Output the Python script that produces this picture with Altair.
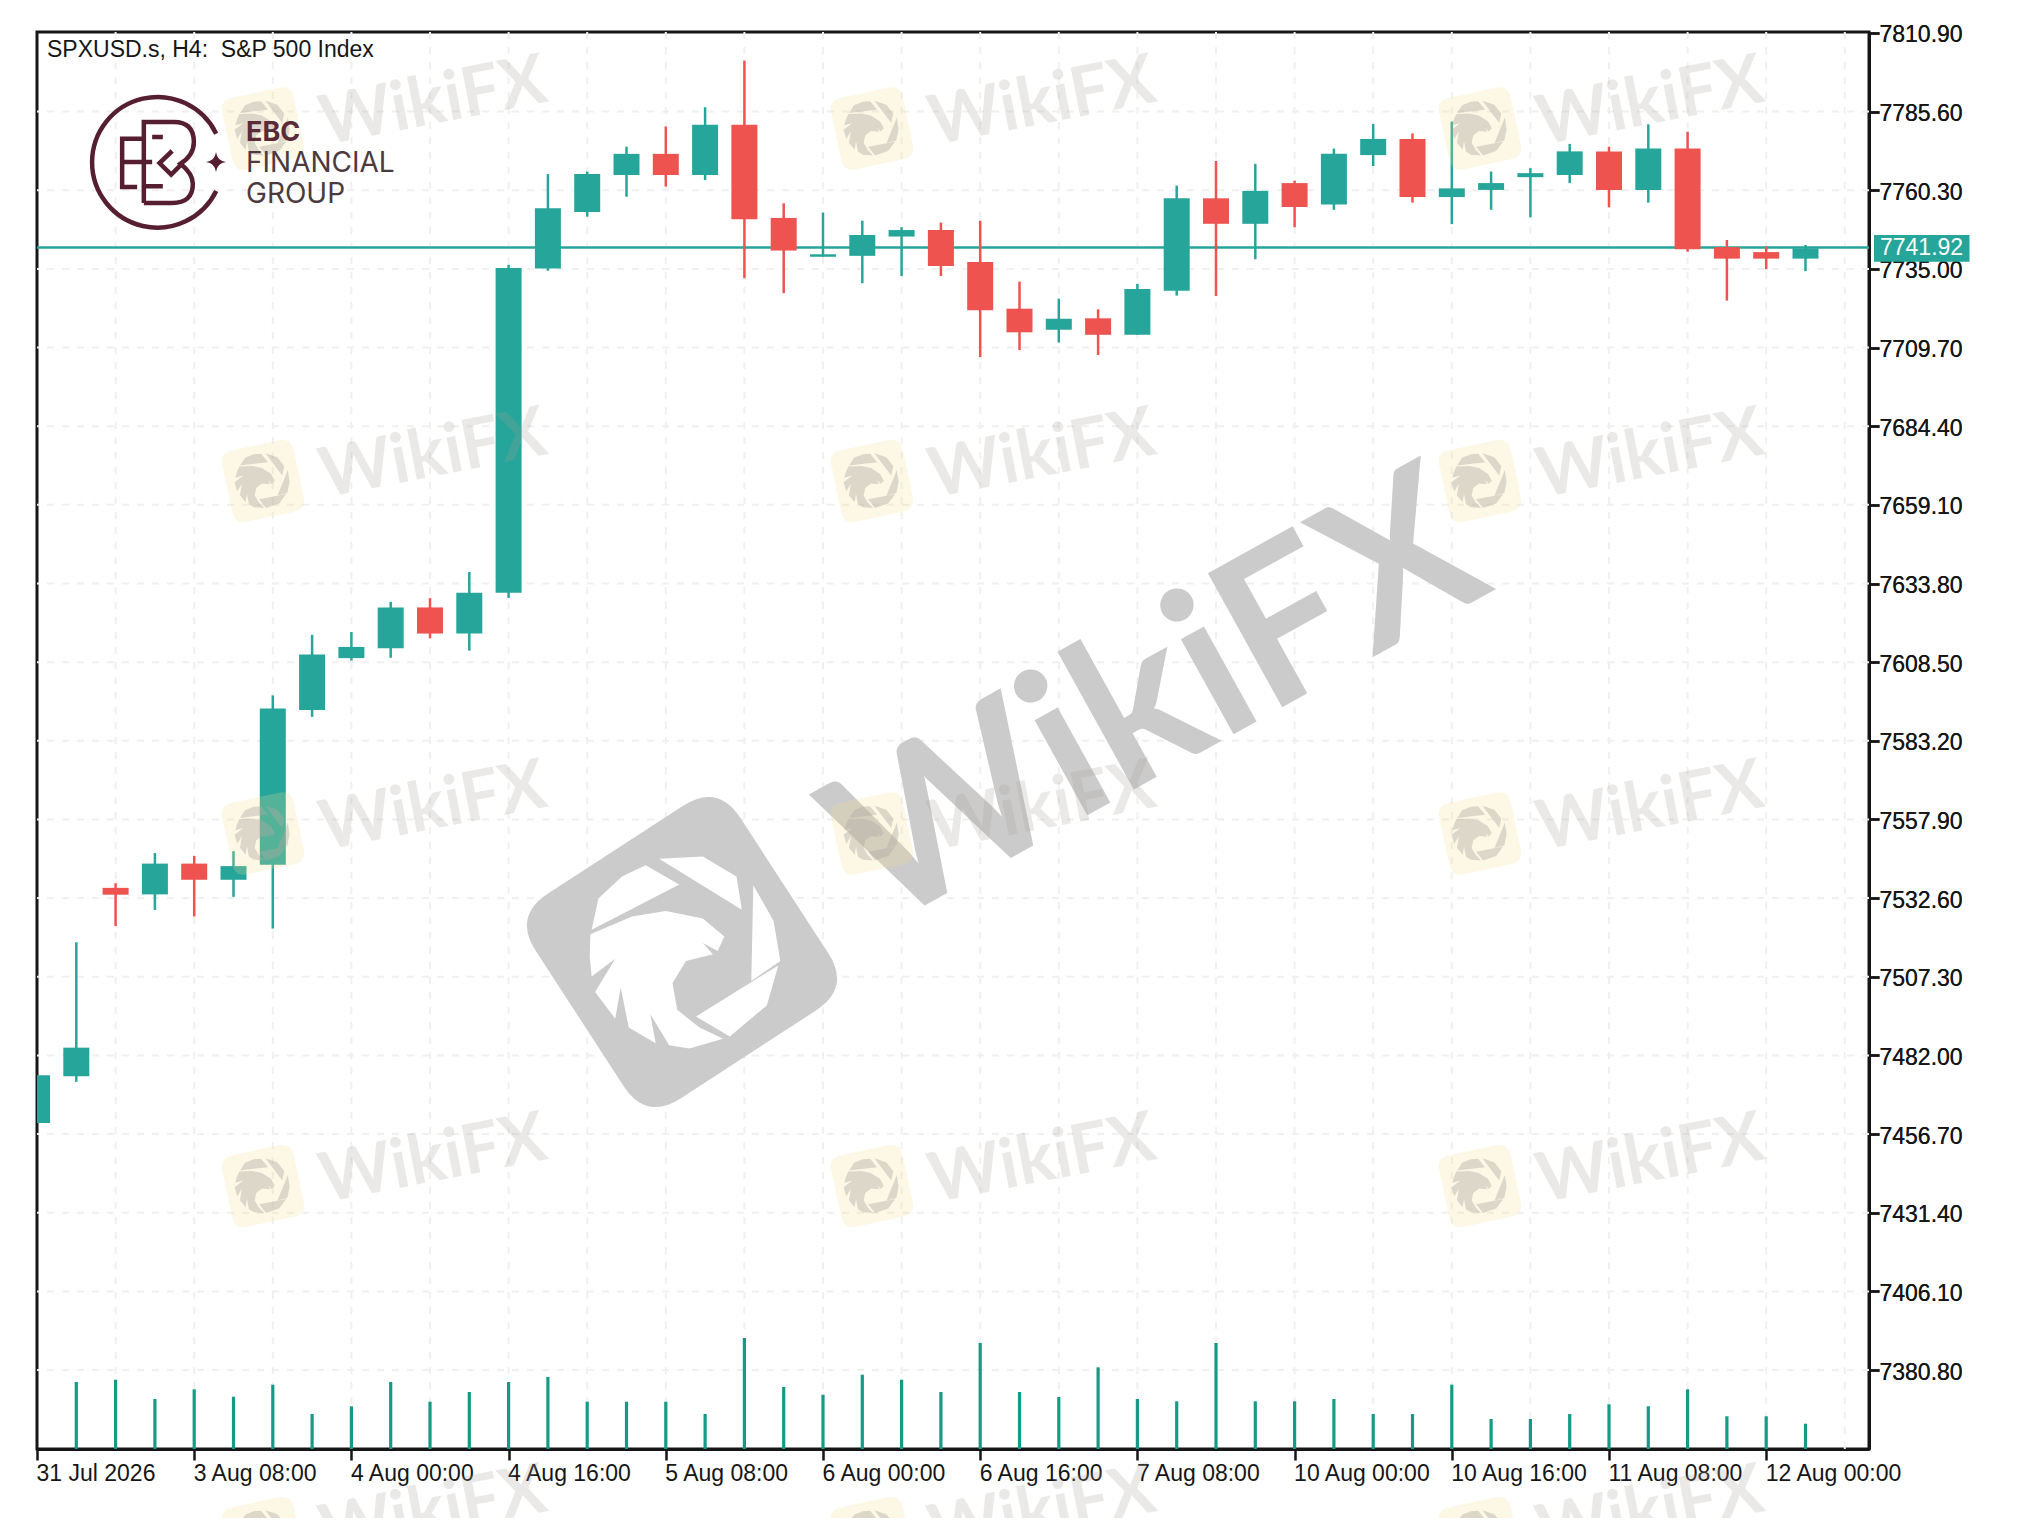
import altair as alt
import pandas as pd

# ---- chart values ----
tops = [7475.6,7484.5,7535.9,7543.7,7543.7,7542.9,7593.6,7611.0,7613.4,7626.1,7626.1,7630.8,7735.3,7754.5,7765.5,7772.0,
        7772.0,7781.4,7781.4,7751.4,7739.7,7745.9,7747.5,7747.5,7737.2,7722.2,7719.0,7719.1,7728.5,7757.7,7757.7,7760.1,
        7762.6,7772.0,7776.8,7776.8,7760.9,7762.6,7765.8,7772.8,7772.8,7773.7,7773.7,7742.0,7740.4,7741.6]
bottoms = [7460.3,7475.3,7533.7,7533.8,7538.5,7538.5,7543.3,7593.1,7609.8,7613.0,7617.7,7617.7,7630.8,7735.1,7753.3,7765.2,
           7765.2,7765.2,7751.0,7740.9,7738.9,7739.2,7745.4,7735.9,7721.7,7714.6,7715.4,7713.8,7713.8,7728.0,7749.5,7749.5,
           7754.9,7755.7,7771.6,7758.1,7758.1,7760.4,7764.5,7765.2,7760.4,7760.4,7741.3,7738.3,7738.3,7738.3]
highs = [7475.6,7518.4,7537.4,7547.1,7546.2,7547.7,7597.8,7617.3,7618.2,7627.9,7629.1,7637.5,7736.3,7765.5,7766.3,7774.3,
         7780.8,7787.0,7802.0,7756.1,7753.1,7750.5,7748.4,7749.9,7750.5,7730.9,7725.4,7722.0,7730.2,7761.8,7769.7,7768.8,
         7763.4,7773.7,7781.6,7778.6,7782.4,7766.3,7767.4,7775.2,7774.3,7781.5,7779.1,7744.3,7742.2,7742.7]
lows = [7460.3,7473.5,7523.6,7528.8,7526.7,7533.0,7522.8,7590.9,7609.0,7609.9,7616.2,7612.2,7629.1,7734.4,7751.8,7758.2,
        7761.5,7763.6,7732.0,7727.2,7738.9,7730.4,7732.7,7732.7,7706.6,7708.9,7711.3,7707.3,7713.8,7726.4,7726.3,7738.1,
        7748.4,7754.0,7768.1,7756.3,7749.4,7754.0,7751.6,7762.6,7754.8,7756.3,7740.5,7724.8,7734.9,7734.3]
directions = ["up","up","down","up","down","up","up","up","up","up","down","up","up","up","up","up",
              "down","up","down","down","up","up","up","down","down","down","up","down","up","up","down","up",
              "down","up","up","down","up","up","up","up","down","up","down","down","down","up"]
volumes = [670,693,500,597,523,643,350,427,670,473,570,670,720,473,473,473,350,1110,620,543,743,693,570,1060,
           570,520,817,500,477,1060,477,477,500,350,350,643,300,300,350,447,427,597,327,327,253]
price_ticks = [7810.90,7785.60,7760.30,7735.00,7709.70,7684.40,7659.10,7633.80,7608.50,7583.20,7557.90,
               7532.60,7507.30,7482.00,7456.70,7431.40,7406.10,7380.80]
time_labels = ["31 Jul 2026","3 Aug 08:00","4 Aug 00:00","4 Aug 16:00","5 Aug 08:00","6 Aug 00:00",
               "6 Aug 16:00","7 Aug 08:00","10 Aug 00:00","10 Aug 16:00","11 Aug 08:00","12 Aug 00:00"]
last_price = [7741.92]

# ---- styles / layout ----
UP, DOWN, INK = "#26a69a", "#ef5350", "#161616"
VOL = "#149a85"
GRID = "#f0f0f0"
FONT = "Liberation Sans"
W, H = 1832, 1417
OX, OY = 37, 32    # plot origin within the page picture

n = len(tops)
idx = list(range(n))
candles = pd.DataFrame({"i": idx, "top": tops, "bottom": bottoms, "high": highs, "low": lows, "dir": directions})
vol_df = pd.DataFrame({"i": idx[1:], "v": volumes})
tick_df = pd.DataFrame({"p": price_ticks[1:]})
vgrid_df = pd.DataFrame({"i": list(range(2, 48, 2))})
last_df = pd.DataFrame({"p": last_price})
one = pd.DataFrame({"a": [0]})

x_scale = alt.Scale(domain=[0, W / 39.3], nice=False, zero=False, padding=0)
y_scale = alt.Scale(domain=[7355.4, 7811.2], nice=False, zero=False)
colour = alt.Color("dir:N", scale=alt.Scale(domain=["up", "down"], range=[UP, DOWN]), legend=None)

label_expr = "[" + ",".join(f"'{t}'" for t in time_labels) + "][datum.value/4]"
x_axis = alt.Axis(values=list(range(0, 48, 4)), labelExpr=label_expr, labelAlign="left", labelFlush=False,
                  labelOverlap=False, labelBound=False, grid=False, title=None, tickSize=11, tickWidth=2.5,
                  tickColor=INK, domainColor=INK, domainWidth=3, labelFont=FONT, labelFontSize=23,
                  labelColor=INK, labelPadding=2, labelOffset=-1)
y_axis = alt.Axis(values=price_ticks, format=".2f", orient="right", grid=False, title=None, tickSize=10,
                  tickWidth=2.5, tickColor=INK, domainColor=INK, domainWidth=3, labelFont=FONT, labelFontSize=23,
                  labelColor=INK, labelPadding=0, labelOffset=2, labelFlush=False, labelOverlap=False, labelBound=False)
x_enc = alt.X("i:Q", scale=x_scale, axis=x_axis)
y_enc = lambda f: alt.Y(f, scale=y_scale, axis=y_axis)

DASH = [7, 8]
hgrid = alt.Chart(tick_df).mark_rule(color=GRID, strokeWidth=2, strokeDash=DASH).encode(y=y_enc("p:Q"))
vgrid = alt.Chart(vgrid_df).mark_rule(color=GRID, strokeWidth=2, strokeDash=DASH, clip=True).encode(x=x_enc)
price_line = alt.Chart(last_df).mark_rule(color=UP, strokeWidth=2.5).encode(y=y_enc("p:Q"))
wicks = alt.Chart(candles).mark_rule(strokeWidth=2.5, clip=True).encode(
    x=x_enc, y=y_enc("low:Q"), y2="high:Q", color=colour)
bodies = alt.Chart(candles).mark_bar(size=26, orient="vertical", clip=True).encode(
    x=x_enc, y=y_enc("bottom:Q"), y2="top:Q", color=colour)
grid_group = alt.layer(hgrid, vgrid)
price_group = alt.layer(price_line, wicks, bodies)

vol_layer = alt.Chart(vol_df).mark_bar(size=3.2, orient="vertical", color=VOL).encode(
    x=x_enc, y=alt.Y("v:Q", scale=alt.Scale(domain=[0, 14170], nice=False, zero=True), axis=None))

# ---- decorations: watermark and logo, placed in page pixels ----
def px(x): return x - OX
def py(y): return y - OY

def text(s, x, y, **kw):
    return alt.Chart(one).mark_text(text=s, **kw).encode(x=alt.value(px(x)), y=alt.value(py(y)))

def shape(path, x, y, size, **kw):
    return alt.Chart(one).mark_point(shape=path, size=size, **kw).encode(x=alt.value(px(x)), y=alt.value(py(y)))

ROUND_SQUARE = ("M -0.66 -1 L 0.66 -1 Q 1 -1 1 -0.66 L 1 0.66 Q 1 1 0.66 1 L -0.66 1 "
                "Q -1 1 -1 0.66 L -1 -0.66 Q -1 -1 -0.66 -1 Z")

EAGLE_PIECES = [
    [(135,1120),(145,1050),(180,1000),(215,975),(265,1018)],
    [(235,960),(300,955),(350,1000),(358,1075)],
    [(375,1020),(405,1100),(415,1190),(372,1235)],
    [(412,1200),(395,1290),(340,1360),(290,1315)],
    [(133,1130),(195,1090),(245,1078),(300,1095),(332,1135),(322,1168),(300,1150),(315,1175),(275,1190),
     (255,1240),(262,1300),(295,1340),(330,1365),(280,1387),(250,1380),(222,1310),(230,1375),(190,1340),
     (178,1250),(170,1320),(140,1260),(170,1185),(135,1225),(132,1180)],
]
def eagle_path(scale):
    out = []
    for piece in EAGLE_PIECES:
        pts = [((a - 275) / 1.479 / scale, (b - 1170) / 2.24 / scale) for a, b in piece]
        out.append("M " + " L ".join(f"{u:.3f} {v:.3f}" for u, v in pts) + " Z")
    return " ".join(out)
EAGLE = eagle_path(128)

# large central mark, above the grid and beneath the candles
big_mark = alt.layer(
    shape(ROUND_SQUARE, 682, 952, 244 ** 2, filled=True, fill="#cbcbcb", strokeWidth=0, opacity=1, angle=327),
    shape(EAGLE, 686, 952, 255 ** 2, filled=True, fill="#ffffff", strokeWidth=0, opacity=1),
    text("WikiFX", 1158, 703, font="Lato", fontWeight=700, fontSize=212, angle=331, align="center",
         baseline="middle", color="#cbcbcb"),
)

# repeated small marks, above the candles
small_layers = []
for cx in [263, 872, 1480]:
    for cy in [128.5, 481, 833.5, 1186, 1538]:
        small_layers.append(shape(ROUND_SQUARE, cx, cy, 73 ** 2, filled=True, fill="#f7dd8f", strokeWidth=0,
                                  opacity=0.22, angle=348))
        small_layers.append(shape(EAGLE, cx, cy, 73 ** 2, filled=True, fill="#b0aaa5", strokeWidth=0,
                                  opacity=0.42, angle=21))
        small_layers.append(text("WikiFX", cx + 170, cy - 26, font="Lato", fontWeight=700, fontSize=69, angle=349,
                                 align="center", baseline="middle", color="#a89f98", opacity=0.22))

MAROON = "#561f31"
# logo paths on a 200-zoom-pixel unit around the ring centre
def lp(a, b): return f"{(a - 250) / 200:.3f} {(b - 245) / 200:.3f}"
LOGO_LINES = " ".join([
    f"M {lp(432,160)} A 0.98 0.98 0 1 0 {lp(432,332)}",
    f"M {lp(215,368)} L {lp(215,125)} L {lp(305,125)} Q {lp(365,125)} {lp(365,185)} Q {lp(365,225)} {lp(325,250)} "
    f"Q {lp(362,280)} {lp(362,310)} Q {lp(362,368)} {lp(300,368)} L {lp(215,368)}",
    f"M {lp(300,212)} L {lp(262,248)} L {lp(297,283)} L {lp(330,250)}",
    f"M {lp(218,175)} L {lp(150,175)} L {lp(150,320)} L {lp(195,320)}",
    f"M {lp(150,245)} L {lp(240,245)}",
    f"M {lp(215,318)} L {lp(272,318)}",
    f"M {lp(240,170)} L {lp(272,170)}",
])
STAR = "M 0 -1 Q 0.12 -0.12 1 0 Q 0.12 0.12 0 1 Q -0.12 0.12 -1 0 Q -0.12 -0.12 0 -1 Z"
logo = alt.layer(
    shape(LOGO_LINES, 155.5, 162, (2 * 66.7) ** 2, filled=False, stroke=MAROON, strokeWidth=4.5, opacity=1),
    shape(STAR, 216, 162, 20 ** 2, filled=True, fill=MAROON, strokeWidth=0, opacity=1),
    text("EBC", 246, 141, font="Inter", fontWeight=700, fontSize=27, align="left", baseline="alphabetic", color="#5a2a37"),
    text("FINANCIAL", 246, 172, font="Inter", fontWeight=400, fontSize=28, align="left", baseline="alphabetic", color="#4c3a40"),
    text("GROUP", 246, 203, font="Inter", fontWeight=400, fontSize=28, align="left", baseline="alphabetic", color="#4c3a40"),
)

caption = text("SPXUSD.s, H4:\u00a0 S&P 500 Index", 47, 50, font=FONT, fontSize=23, align="left", baseline="middle", color=INK)

price_tag = alt.layer(
    alt.Chart(one).mark_rect(color=UP).encode(x=alt.value(px(1874)), x2=alt.value(px(1969.5)),
                                              y=alt.value(py(235)), y2=alt.value(py(261.7))),
    text(f"{last_price[0]:.2f}", 1880, 248, font=FONT, fontSize=23, align="left", baseline="middle", color="#ffffff"),
)

chart = alt.layer(grid_group, big_mark, price_group, vol_layer, *small_layers, logo, caption, price_tag).resolve_scale(
    y="independent"
).properties(
    width=W, height=H, background="#ffffff",
    padding={"left": OX - 8, "top": OY - 8, "right": 150, "bottom": 69},
    autosize=alt.AutoSizeParams(type="none", contains="content"),
).configure_view(stroke=INK, strokeWidth=3)

chart.save("out.html", embed_options={"renderer": "svg", "actions": False})
